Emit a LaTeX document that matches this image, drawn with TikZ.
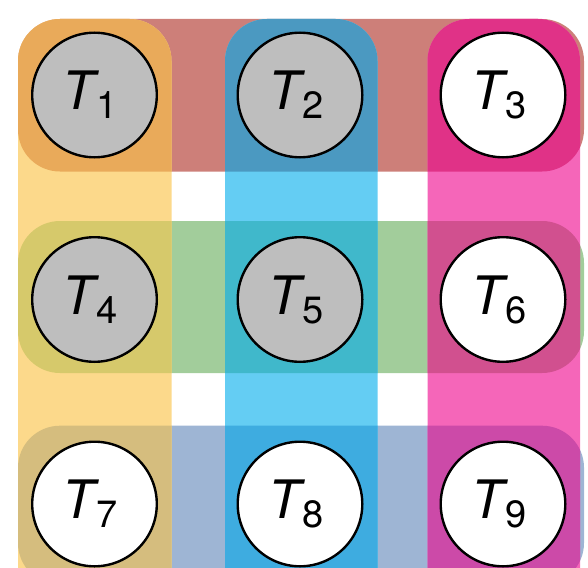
\documentclass[tikz,border=0pt]{standalone}
\usepackage{fontspec}
\setmainfont{TeX Gyre Heros}
\definecolor{row1}{HTML}{CD7F79}
\definecolor{row2}{HTML}{A2CD9B}
\definecolor{row3}{HTML}{9EB5D4}
\definecolor{col1}{HTML}{FCD98B}
\definecolor{col2}{HTML}{64CDF3}
\definecolor{col3}{HTML}{F566B9}
\definecolor{x11}{HTML}{E9AA5A}
\definecolor{x12}{HTML}{4B99C1}
\definecolor{x13}{HTML}{E03287}
\definecolor{x21}{HTML}{D6C96B}
\definecolor{x22}{HTML}{40B8CB}
\definecolor{x23}{HTML}{D1508F}
\definecolor{x31}{HTML}{D5BD7E}
\definecolor{x32}{HTML}{3EACE0}
\definecolor{x33}{HTML}{CC4AA8}
\definecolor{tgray}{HTML}{BEBEBE}
\newcommand\tlab[1]{\textit{T}\kern-3pt\raisebox{-9pt}{\fontsize{38}{38}\selectfont #1}}
\tikzset{
  band/.style={rounded corners=42pt},
  tnode/.style={circle, draw=black, line width=2.4pt, minimum size=124.6pt, inner sep=0pt},
  graynode/.style={tnode, fill=tgray},
  whitenode/.style={tnode, fill=white},
  labnode/.style={inner sep=0pt, xshift=-4pt, font=\fontsize{53}{60}\selectfont}
}
\begin{document}
\begin{tikzpicture}[x=1pt, y=-1pt]
\useasboundingbox (0,0) rectangle (588,567);
\clip (0,0) rectangle (588,567);
% rows
\foreach \ya/\yb [count=\i] in {19/171.5, 221/373, 425.7/585} {
  \fill[band, fill=row\i] (18,\ya) rectangle (584,\yb);
}
% columns
\foreach \xa/\xb [count=\j] in {18/171.5, 225/377.5, 427.5/580} {
  \fill[band, fill=col\j] (\xa,19) rectangle (\xb,610);
}
% intersections
\foreach \ya/\yb [count=\i] in {19/171.5, 221/373, 425.7/585} {
  \foreach \xa/\xb [count=\j] in {18/171.5, 225/377.5, 427.5/580} {
    \begin{scope}
      \clip[band] (18,\ya) rectangle (584,\yb);
      \fill[band, fill=x\i\j] (\xa,19) rectangle (\xb,610);
    \end{scope}
  }
}
% task nodes
\node[graynode]  (t1) at (94.5,95) {};
\node[graynode]  (t2) at (300,95) {};
\node[whitenode] (t3) at (503,95) {};
\node[graynode]  (t4) at (94.5,299.5) {};
\node[graynode]  (t5) at (300,299.5) {};
\node[whitenode] (t6) at (503,299.5) {};
\node[whitenode] (t7) at (94.5,504) {};
\node[whitenode] (t8) at (300,504) {};
\node[whitenode] (t9) at (503,504) {};
\foreach \k in {1,...,9} {
  \node[labnode] (l\k) at (t\k) {\tlab{\k}};
}
\end{tikzpicture}
\end{document}
